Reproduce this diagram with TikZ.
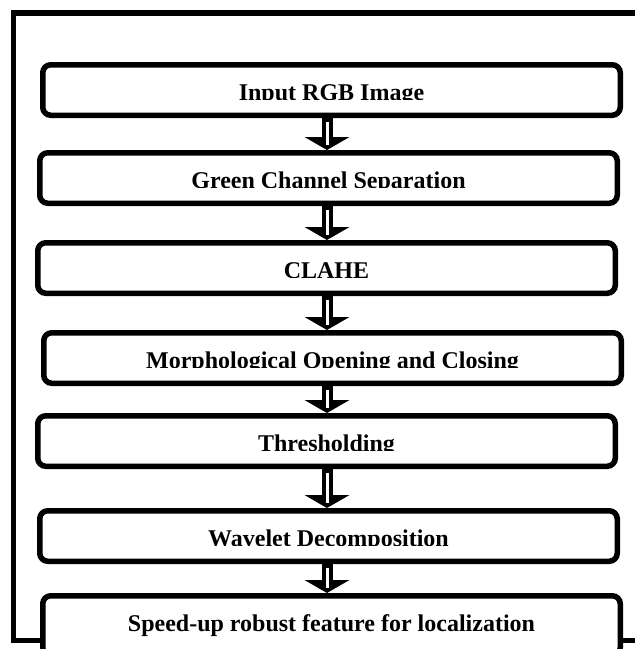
\documentclass[tikz,border=0pt]{standalone}
\usepackage{fontspec}
\setmainfont{Liberation Serif}
\usetikzlibrary{arrows.meta,calc}
\begin{document}
\begin{tikzpicture}[x=1pt,y=-1pt,
  frame/.style={line width=5.5pt, line join=miter},
  stepbox/.style={draw, line width=5.5pt, rounded corners=8pt, fill=white,
    minimum width=577.5pt, minimum height=50.5pt, inner sep=0pt,
    text height=20pt, text depth=0pt, anchor=north,
    font=\fontsize{24}{28}\selectfont\bfseries},
  flowshaft/.style={line width=11pt, -{Triangle[width=45pt,length=13pt,line width=0pt]}},
  flowslit/.style={white, line width=3pt, shorten <=4pt, shorten >=5pt}]
\useasboundingbox (0,0) rectangle (635,649);
\fill[white] (0,0) rectangle (635,649);
\draw[frame] (13.5,13) rectangle (690,640.5);
\node[stepbox] (b1) at (331.5,62) {Input RGB Image};
\node[stepbox] (b2) at (328.5,150) {Green Channel Separation};
\node[stepbox] (b3) at (326.5,240) {CLAHE};
\node[stepbox] (b4) at (332.5,330) {Morphological Opening and Closing};
\node[stepbox] (b5) at (326.5,413) {Thresholding};
\node[stepbox] (b6) at (328.5,508) {Wavelet Decomposition};
\node[stepbox, minimum height=60pt, text height=10.5pt] (b7) at (331.5,593) {Speed-up robust feature for localization};
% text clipped at its baseline, as in the reference
\foreach \b in {b1,b2,b3,b4,b5,b6}{
  \fill[white] ($(\b.north west)+(20,38.4)$) rectangle ($(\b.north east)+(-20,50)$);
}
\coordinate (ax) at (327,0);
\foreach \a/\b in {b1/b2,b2/b3,b3/b4,b4/b5,b5/b6,b6/b7}{
  \draw[flowshaft] (\a.south -| ax) -- (\b.north -| ax);
  \draw[flowslit] (\a.south -| ax) -- (\b.north -| ax);
}
\end{tikzpicture}
\end{document}
